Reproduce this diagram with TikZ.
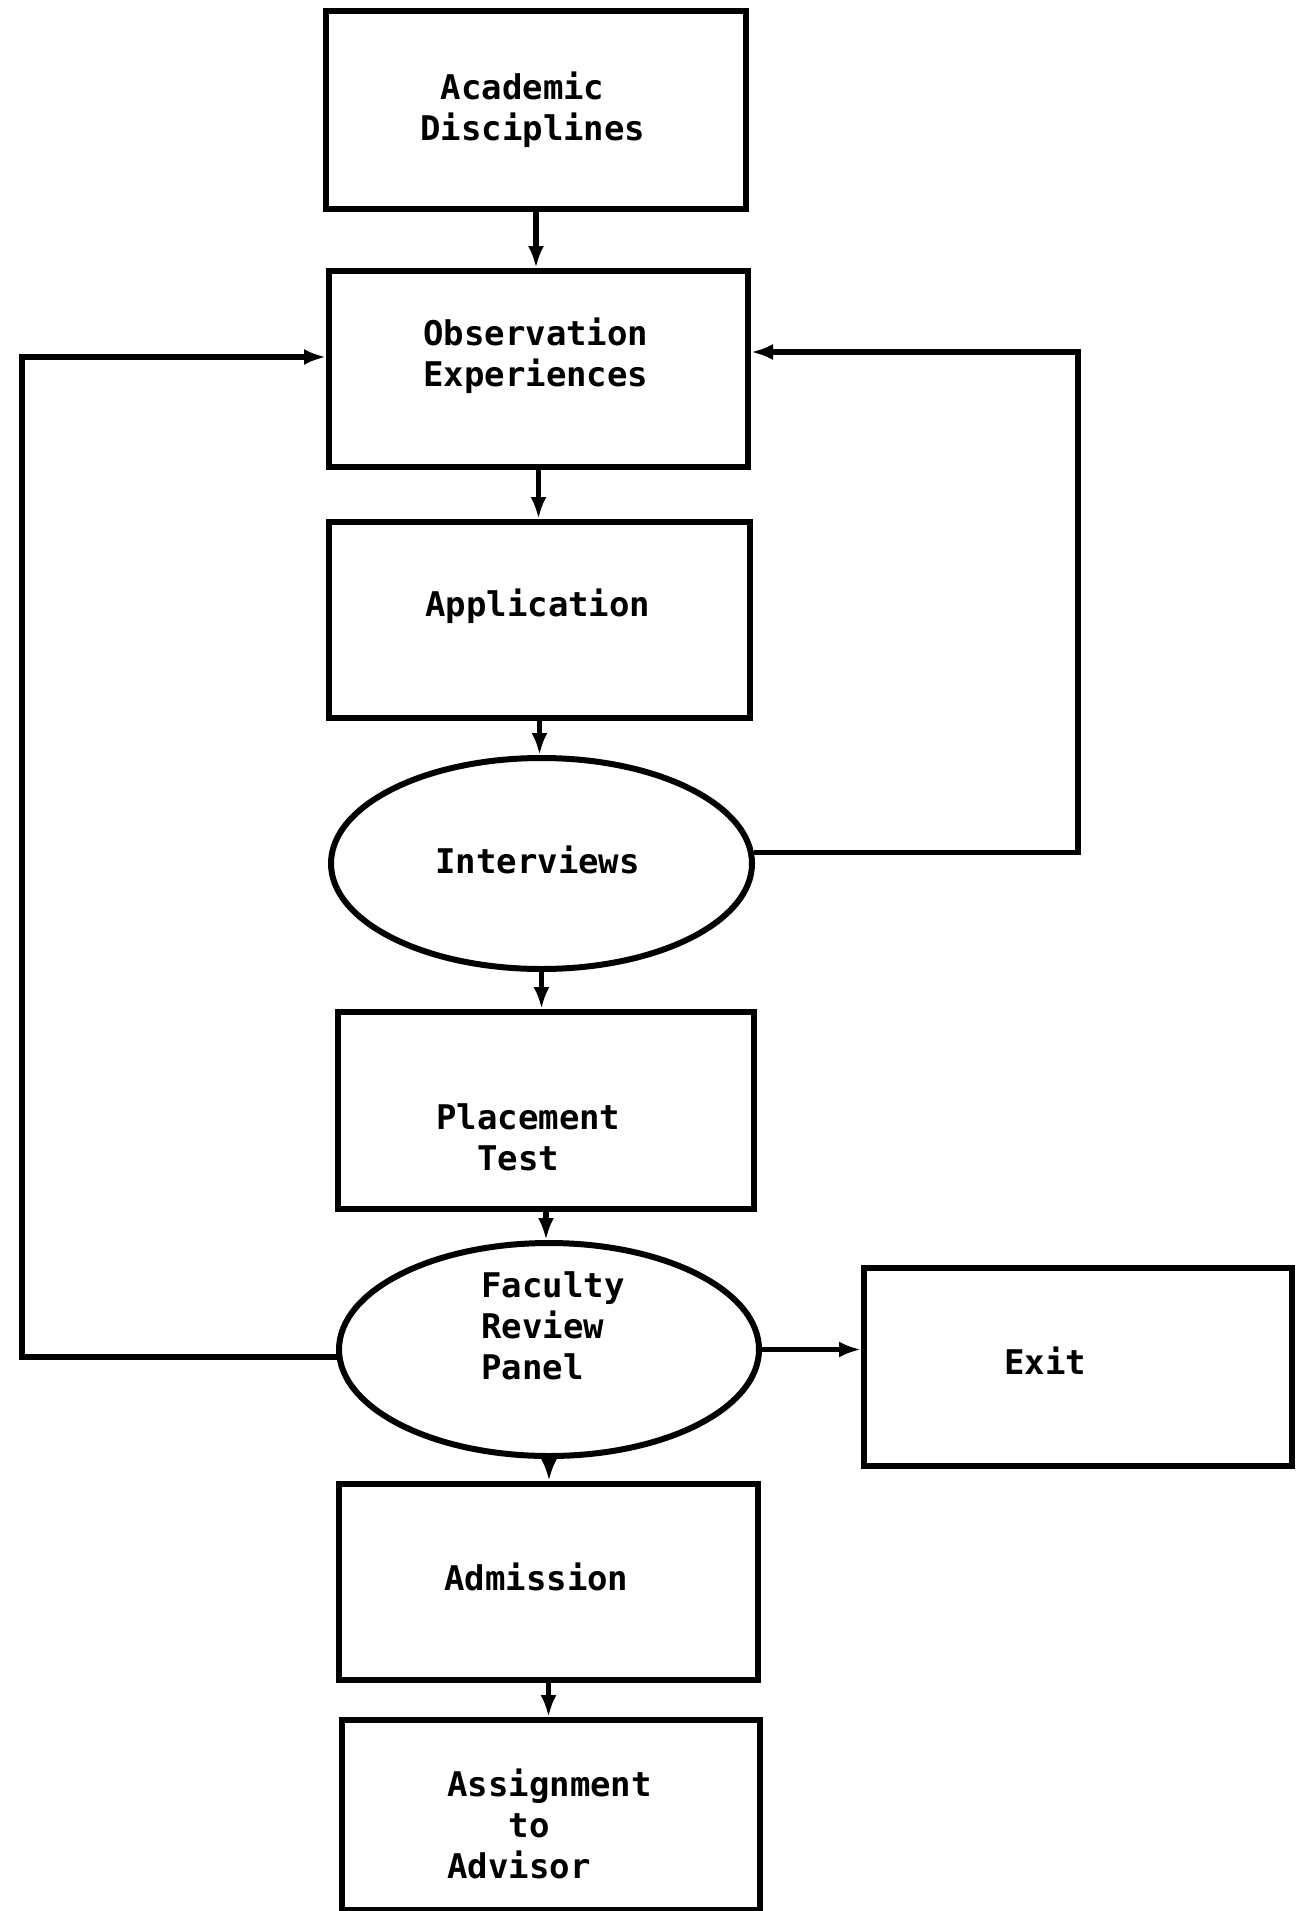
\documentclass[tikz,border=0pt]{standalone}
\usepackage{fontspec}
\setmonofont{DejaVu Sans Mono}
\usetikzlibrary{arrows.meta,shapes.geometric}

\begin{document}
\begin{tikzpicture}[x=1pt,y=1pt,yscale=-1,xscale=1,
		stagebox/.style={draw, line width=6pt, rectangle, inner sep=0pt, minimum width=420pt, minimum height=196pt},
		stageoval/.style={draw, line width=6pt, ellipse, inner sep=0pt, minimum width=421pt, minimum height=212pt},
		stagetext/.style={anchor=north west, inner sep=0pt, align=left, font=\ttfamily\bfseries\fontsize{34}{41}\selectfont},
		flow/.style={line width=5.5pt, -{Latex[length=22pt,width=16pt]}}]
		% Set the diagram to the size of the scanned page
		\useasboundingbox (0,0) rectangle (1298,1911);

		% Draw the boxes and ovals of the stages, top to bottom
		\node[stagebox] (acad) at (536,110) [minimum height=198pt] {};
		\node[stagebox] (obs) at (538.5,369) [minimum width=419pt] {};
		\node[stagebox] (app) at (539.5,620) [minimum width=421pt] {};
		\node[stageoval] (intv) at (541.5,863.5) [minimum height=211pt] {};
		\node[stagebox] (place) at (546,1110.5) [minimum width=416pt, minimum height=197pt] {};
		\node[stageoval] (fac) at (549,1349.5) [minimum width=420pt, minimum height=213pt] {};
		\node[stagebox] (exit) at (1078,1367) [minimum width=428pt, minimum height=198pt] {};
		\node[stagebox] (adm) at (548.5,1582) [minimum width=419pt] {};
		\node[stagebox] (asg) at (551,1815) [minimum width=418pt, minimum height=190pt] {};

		% The typed words inside the stages
		\node[stagetext] (acadtxt) at (420,72) {\phantom{A}Academic\\Disciplines};
		\node[stagetext] (obstxt) at (423,318) {Observation\\Experiences};
		\node[stagetext] (apptxt) at (425,589) {Application};
		\node[stagetext] (intvtxt) at (435,846) {Interviews};
		\node[stagetext] (placetxt) at (436,1103) {Placement\\\phantom{AA}Test};
		\node[stagetext] (factxt) at (481,1271) {Faculty\\Review\\Panel};
		\node[stagetext] (exittxt) at (1004,1347) {Exit};
		\node[stagetext] (admtxt) at (444,1563) {Admission};
		\node[stagetext] (asgtxt) at (447,1769) {Assignment\\\phantom{AAA}to\\Advisor};

		% Draw the downward arrows between the stages
		\draw[flow] (acad.south) -- (acad.south |- obs.north);
		\draw[flow] (obs.south) -- (obs.south |- app.north);
		\draw[flow] (app.south) -- (app.south |- intv.north);
		\draw[flow] (intv.south) -- (intv.south |- place.north);
		\draw[flow] (place.south) -- (place.south |- fac.north);
		\draw[flow] (fac.south) -- (fac.south |- adm.north);
		\draw[flow] (adm.south) -- (adm.south |- asg.north);

		% Draw the arrow from the panel out to the exit
		\draw[flow] (fac.east) -- (fac.east -| exit.west);

		% Corners of the two loops back to the observation box
		\coordinate (ltop) at (22,357);
		\coordinate (rtop) at (1078,352);

		% Draw the loop on the right, from the interviews
		\draw[flow] (intv.3) -| (rtop) -- (rtop -| obs.east);

		% Draw the loop on the left, from the review panel
		\draw[flow] (fac.182) -| (ltop) -- (ltop -| obs.west);
	\end{tikzpicture}
\end{document}
